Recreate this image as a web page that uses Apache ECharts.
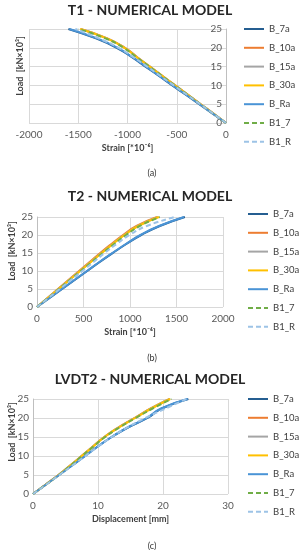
<!DOCTYPE html>
<html>
<head>
<meta charset="utf-8">
<script src="https://cdn.jsdelivr.net/npm/echarts@6/dist/echarts.min.js"></script>
<style>html,body{margin:0;padding:0;background:#fff}#c{width:300px;height:550px}</style>
</head>
<body>
<div id="c"></div>
<script>
// ---- data ----
var seriesNames = ['B_7a','B_10a','B_15a','B_30a','B_Ra','B1_7','B1_R'];
var loads = [0, 2.5, 5, 7.5, 10, 12.5, 15, 17.5, 20, 22.5, 25];

// T1 strain [*10^-6]
var t1_B7a  = [0,-135,-272,-408,-545,-680,-818,-955,-1110,-1320,-1600];
var t1_B10a = [0,-127,-256,-385,-515,-643,-772,-900,-1025,-1205,-1475];
var t1_B15a = [0,-128,-257,-386,-516,-645,-773,-903,-1028,-1208,-1478];
var t1_B30a = [0,-128,-258,-388,-518,-646,-775,-905,-1030,-1210,-1480];
var t1_BRa  = [0,-133,-268,-404,-540,-676,-812,-950,-1100,-1310,-1590];
var t1_B17  = [0,-130,-260,-390,-522,-650,-780,-910,-1040,-1225,-1500];
var t1_B1R  = [0,-130,-262,-396,-530,-665,-800,-940,-1090,-1290,-1530];

// T2 strain [*10^-6]
var t2_B7a  = [0,135,270,405,540,675,815,960,1120,1320,1590];
var t2_B10a = [0,112,225,338,452,566,680,800,925,1070,1290];
var t2_B15a = [0,115,230,345,460,576,692,812,938,1085,1305];
var t2_B30a = [0,116,232,348,464,580,696,816,940,1088,1310];
var t2_BRa  = [0,133,267,401,536,670,810,955,1112,1312,1580];
var t2_B17  = [0,118,236,354,472,590,708,830,958,1105,1320];
var t2_B1R  = [0,122,244,366,488,608,728,855,995,1180,1480];

// LVDT2 displacement [mm]
var l2_B7a  = [0,2.0,4.0,6.0,8.0,9.95,12.1,14.6,17.6,19.8,23.9];
var l2_B10a = [0,1.95,3.9,5.7,7.45,9.2,10.95,13.1,15.6,18.1,21.0];
var l2_B15a = [0,1.97,3.92,5.72,7.48,9.22,10.98,13.15,15.65,18.15,21.05];
var l2_B30a = [0,2.0,3.95,5.75,7.5,9.25,11.0,13.2,15.7,18.2,21.1];
var l2_BRa  = [0,2.02,4.02,6.02,8.02,9.98,12.1,14.55,17.5,19.7,23.8];
var l2_B17  = [0,2.0,3.97,5.8,7.55,9.3,11.1,13.3,15.8,18.4,21.3];
var l2_B1R  = [0,2.05,4.05,6.05,8.05,10.0,12.1,14.5,17.3,20.4,23.6];

// ---- styles ----
var colors = ['#255E91','#ED7D31','#A5A5A5','#FFC000','#4A94D6','#70AD47','#9DC3E6'];
var dashed = [false,false,false,false,false,true,true];
var FONT = 'Lato';
var txt = '#595959';

function mk(xs, name, idx, gi) {
  return {
    type:'line', name:name, xAxisIndex:gi, yAxisIndex:gi,
    data: xs.map(function(v,i){ return [v, loads[i]]; }),
    symbol:'none', showSymbol:false, smooth:true,
    lineStyle:{ color:colors[idx], width:2, type: dashed[idx] ? [5,3] : 'solid' },
    itemStyle:{ color:colors[idx] },
    emphasis:{disabled:true}, silent:true
  };
}
var sets = [
  [t1_B7a,t1_B10a,t1_B15a,t1_B30a,t1_BRa,t1_B17,t1_B1R],
  [t2_B7a,t2_B10a,t2_B15a,t2_B30a,t2_BRa,t2_B17,t2_B1R],
  [l2_B7a,l2_B10a,l2_B15a,l2_B30a,l2_BRa,l2_B17,l2_B1R]
];
var series = [];
sets.forEach(function(s, gi){
  s.forEach(function(xs, i){ series.push(mk(xs, seriesNames[i], i, gi)); });
});

var grids = [
  {left:29, right:74, top:29, height:94},
  {left:37, right:77, top:217, height:90},
  {left:33, right:72, top:399, height:95}
];
var xNames = ['Strain [*10\u207B\u2076]','Strain [*10\u207B\u2076]','Displacement [mm]'];
var xRanges = [[-2000,0,500],[0,2000,500],[0,30,10]];

var xAxes = xRanges.map(function(r, gi){
  return {
    type:'value', gridIndex:gi, min:r[0], max:r[1], interval:r[2],
    name:xNames[gi], nameLocation:'middle', nameGap:21,
    nameTextStyle:{fontFamily:FONT, fontSize:9, fontWeight:'bold', color:'#404040'},
    axisLine:{show:false}, axisTick:{show:false},
    axisLabel:{fontFamily:FONT, fontSize:10, color:txt, margin:7, formatter:function(v){ return String(v); }},
    splitLine:{show:true, lineStyle:{color:'#D9D9D9', width:1}}
  };
});
var yAxes = [0,1,2].map(function(gi){
  return {
    type:'value', gridIndex:gi, min:0, max:25, interval:5,
    position: gi===0 ? 'right' : 'left',
    axisLine:{show:true, lineStyle:{color:'#BFBFBF'}}, axisTick:{show:false},
    axisLabel:{fontFamily:FONT, fontSize:10, color:txt, margin:4, inside: gi===0},
    splitLine:{show:true, lineStyle:{color:'#D9D9D9', width:1}}
  };
});

var legendPos = [[243,23],[247,208],[247,393]];
var legends = legendPos.map(function(p, gi){
  return {
    orient:'vertical', left:p[0], top:p[1], itemWidth:20, itemHeight:12, itemGap:6.8,
    padding:0,
    data: seriesNames.map(function(n){ return {name:n}; }),
    itemStyle:{opacity:0},
    textStyle:{fontFamily:FONT, fontSize:9.5, color:'#404040', lineHeight:12},
    selectedMode:false
  };
});
var titles = [
  {text:'T1 - NUMERICAL MODEL', left:'center', top:0},
  {text:'T2 - NUMERICAL MODEL', left:'center', top:186},
  {text:'LVDT2 - NUMERICAL MODEL', left:'center', top:369}
].map(function(t){
  t.textStyle = {fontFamily:FONT, fontSize:14, fontWeight:'bold', color:'#262626'};
  t.padding = [3,0,0,0];
  return t;
});

function yName(x, y){
  return {type:'text', x:x, y:y, rotation:Math.PI/2,
    style:{text:'Load  [kN\u00D710\u00B3]', fontFamily:FONT, fontSize:9, fontWeight:'bold',
      fill:'#404040', align:'center', verticalAlign:'middle'}};
}
function cap(t, y){
  return {type:'text', x:152, y:y,
    style:{text:t, fontFamily:FONT, fontSize:9, fill:'#333', align:'center', verticalAlign:'middle'}};
}

var chart = echarts.init(document.getElementById('c'), null, {renderer:'canvas'});
chart.setOption({
  animation:false,
  title:titles,
  grid:grids,
  xAxis:xAxes,
  yAxis:yAxes,
  legend:legends,
  series:series,
  graphic:[yName(20,66), yName(12,251), yName(12,432), cap('(a)',173), cap('(b)',358), cap('(c)',546)]
});
</script>
</body>
</html>
